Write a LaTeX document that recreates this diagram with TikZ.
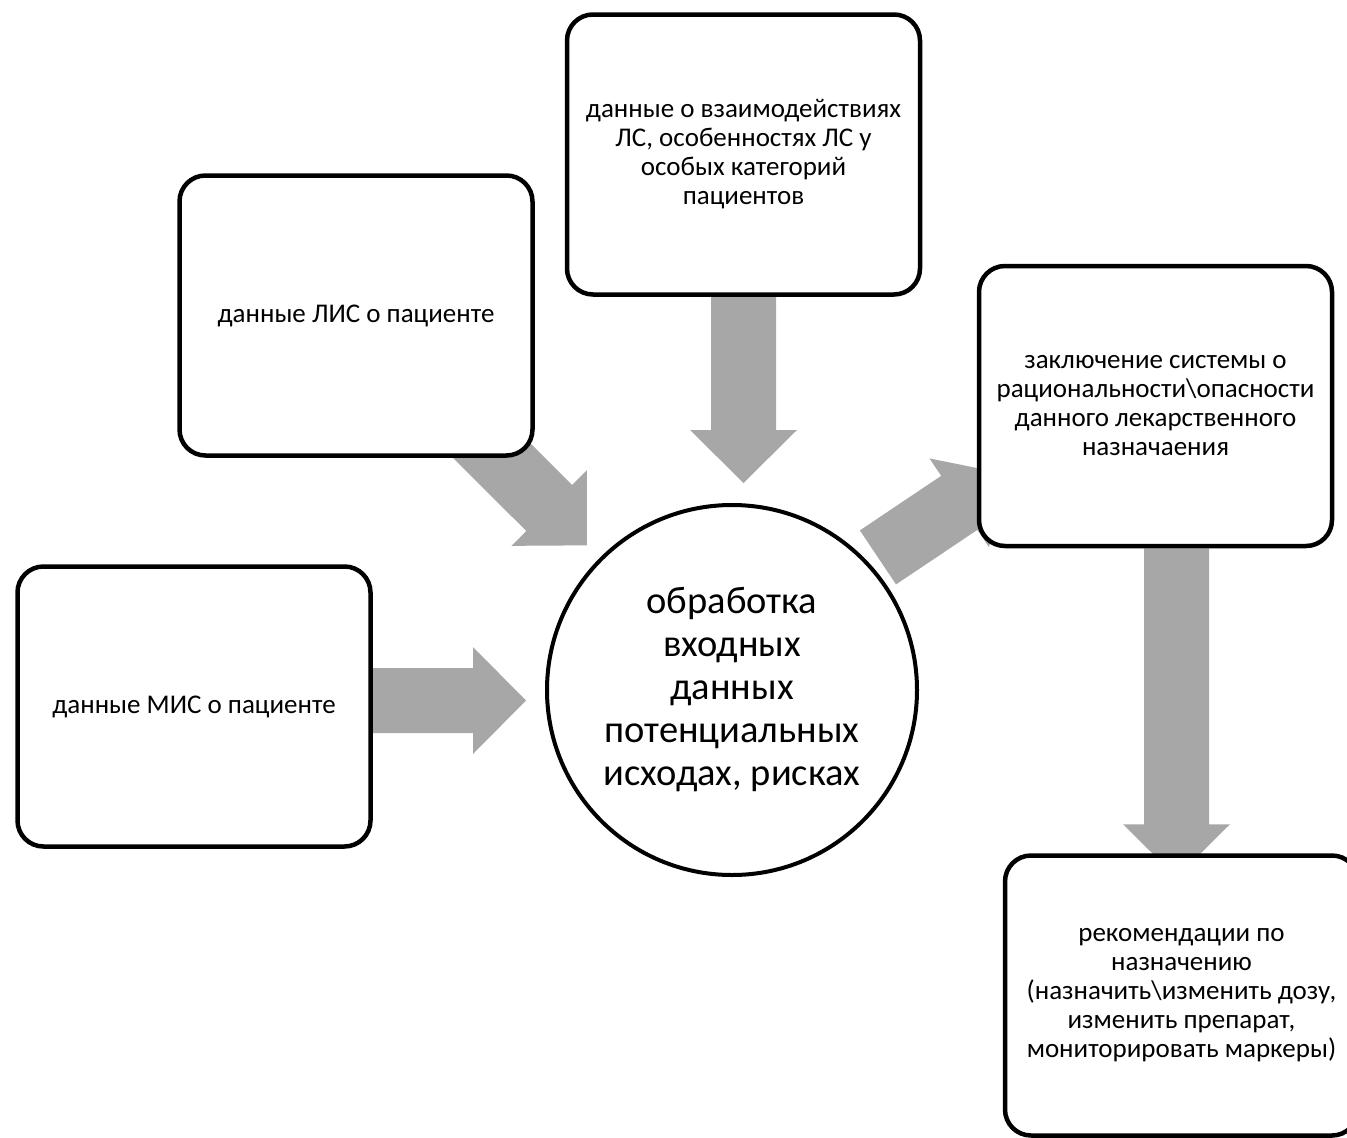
\documentclass[tikz,border=0pt]{standalone}
\usepackage{fontspec}
\setmainfont{Carlito}
\usetikzlibrary{calc,backgrounds}
\definecolor{arrowgray}{RGB}{167,167,167}

\tikzset{
  tipgap/.code={\def\tipgap{#1}}, tipgap=0pt,
  tailgap/.code={\def\tailgap{#1}}, tailgap=0pt,
  % one filled outline: shaft 65pt, head 107pt wide, 53pt long
  blockarrow/.style={fill=arrowgray, to path={
    let \p1=($(\tikztostart)!\tailgap!(\tikztotarget)$),
        \p2=($(\tikztotarget)!\tipgap!(\tikztostart)$),
        \p3=($(\p2)!53pt!(\p1)$) in
    ($(\p1)!32.5pt!90:(\p2)$) -- ($(\p3)!32.5pt!90:(\p2)$) -- ($(\p3)!53.5pt!90:(\p2)$)
    -- (\p2) -- ($(\p3)!53.5pt!-90:(\p2)$) -- ($(\p3)!32.5pt!-90:(\p2)$)
    -- ($(\p1)!32.5pt!-90:(\p2)$) -- cycle}}
}

\begin{document}
\begin{tikzpicture}[x=1pt,y=-1pt,
  box/.style={draw, line width=4.5pt, rounded corners=26pt, fill=white,
    minimum width=353pt, minimum height=280pt, align=center,
    font=\fontsize{27}{29}\selectfont},
  core/.style={draw, circle, line width=4pt, fill=white, minimum size=370pt,
    align=center, font=\fontsize{38.5}{43}\selectfont}]

\useasboundingbox (0,0) rectangle (1347,1138);

% input boxes
\node[box] (lis) at (356,315.5) {данные ЛИС о пациенте};
\node[box] (drugs) at (743.5,154.5) {данные о взаимодействиях\\ЛС, особенностях ЛС у\\особых категорий\\пациентов};
\node[box] (mis) at (194,706.5) {данные МИС о пациенте};

% output boxes
\node[box] (verdict) at (1155.5,406) {заключение системы о\\рациональности\textbackslash опасности\\данного лекарственного\\назначаения};
\node[box] (advice) at (1181.5,995.5) {рекомендации по\\назначению\\(назначить\textbackslash изменить дозу,\\изменить препарат,\\мониторировать маркеры)};

% processing
\node[core] (proc) at (732,690) {обработка\\входных\\данных\\потенциальных\\исходах, рисках};

% arrow ends
\coordinate (misout) at ([yshift=6pt]mis.east);
\coordinate (misin) at (misout -| proc.west);
\coordinate (drugsin) at (drugs.south |- proc.north);
\coordinate (procout) at ([shift={(-16pt,24pt)}]proc.center);
\coordinate (verdictin) at ([shift={(-16pt,24pt)}]verdict.center);
\coordinate (verdictout) at ([xshift=21pt]verdict.south);
\coordinate (advicein) at ([xshift=-5pt,yshift=-24pt]advice.north);

% block arrows, behind the boxes
\begin{scope}[on background layer]
\path[blockarrow, tipgap=19pt] (misout) to (misin);
\path[blockarrow, tipgap=205pt] (lis.center) to (proc.center);
\path[blockarrow, tipgap=20pt] (drugs.south) to (drugsin);
\path[blockarrow, tailgap=195pt, tipgap=164pt] (procout) to (verdictin);
\path[blockarrow] (verdictout) to (advicein);
\end{scope}

\end{tikzpicture}
\end{document}
